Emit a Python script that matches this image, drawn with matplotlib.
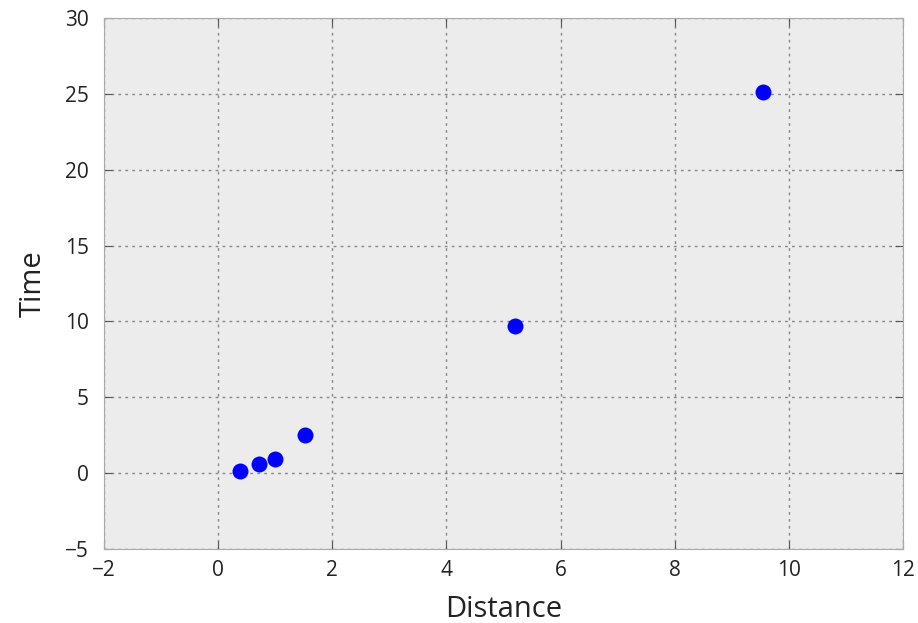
import matplotlib
matplotlib.use("Agg")
import matplotlib.pyplot as plt

plt.rcParams['font.family'] = ['Open Sans', 'DejaVu Sans']

# distance vs time readings
distance = [0.39, 0.72, 1.0, 1.52, 5.2, 9.54]
time = [0.15, 0.6, 0.95, 2.5, 9.7, 25.1]

fig = plt.figure(figsize=(9.18, 6.23), dpi=100)
ax = fig.add_axes([0.1133, 0.1188, 0.8704, 0.8523])
ax.set_facecolor('#ececec')

ax.plot(distance, time, 'o', color='blue', markersize=11.5, markeredgewidth=0)

ax.set_xlim(-2, 12)
ax.set_ylim(-5, 30)
ax.set_xticks(range(-2, 13, 2))
ax.set_yticks(range(-5, 31, 5))
ax.grid(True, color='#888888', linestyle=(0, (2, 3)), linewidth=1)
ax.set_axisbelow(True)

for s in ax.spines.values():
    s.set_color('#aaaaaa')
ax.tick_params(direction='in', top=True, right=True, length=6, color='#555555',
               labelsize=15, labelcolor='#222222')
ax.tick_params(axis='y', pad=11)
ax.tick_params(axis='x', pad=8)

ax.set_xlabel('Distance', fontsize=21, color='#222222', labelpad=10)
ax.set_ylabel('Time', fontsize=21, color='#222222', labelpad=12)

fig.savefig('out.png', dpi=100)
